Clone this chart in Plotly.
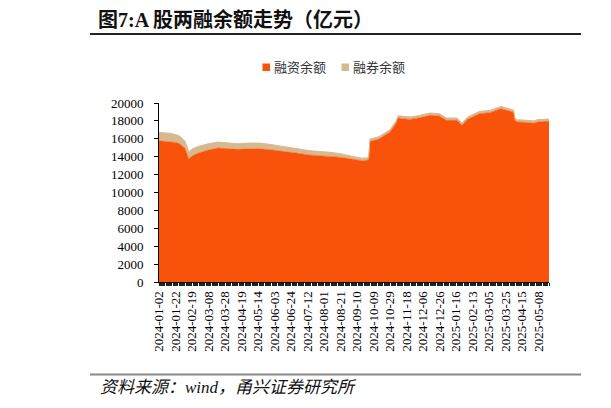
import pandas as pd
import plotly.graph_objects as go

# ---------------- data (亿元) ----------------
dates = [
    "2024-01-02", "2024-01-12", "2024-01-22", "2024-01-25", "2024-01-29",
    "2024-02-01", "2024-02-05", "2024-02-06", "2024-02-07", "2024-02-08",
    "2024-02-19", "2024-02-26", "2024-03-08", "2024-03-20", "2024-04-02",
    "2024-04-16", "2024-04-29", "2024-05-15", "2024-05-27", "2024-06-06",
    "2024-06-20", "2024-07-02", "2024-07-15", "2024-07-26", "2024-08-07",
    "2024-08-20", "2024-08-30", "2024-09-18", "2024-09-24", "2024-09-26",
    "2024-09-27", "2024-10-16", "2024-10-29", "2024-11-05", "2024-11-07",
    "2024-11-21", "2024-12-03", "2024-12-16", "2024-12-26", "2025-01-06",
    "2025-01-17", "2025-01-23", "2025-02-07", "2025-02-21", "2025-03-06",
    "2025-03-19", "2025-03-26", "2025-04-03", "2025-04-07", "2025-04-09",
    "2025-04-16", "2025-04-29", "2025-05-08", "2025-05-21",
]
financing = [
    15770, 15700, 15600, 15480, 15300,
    14950, 14250, 13780, 13830, 13950,
    14080, 14390, 14760, 14960, 14910,
    14820, 14880, 14890, 14800, 14690,
    14510, 14390, 14200, 14130, 14060,
    13950, 13790, 13560, 13580, 13680,
    15700, 16000, 16750, 17680, 18320,
    18170, 18350, 18620, 18550, 18070,
    18070, 17510, 18180, 18810, 18920,
    19370, 19200, 18950, 18070, 17870,
    17850, 17750, 17900, 17950,
]
sec_lending = [
    930, 930, 880, 850, 820,
    790, 790, 790, 780, 780,
    770, 740, 690, 670, 660,
    620, 640, 630, 600, 530,
    560, 520, 490, 440, 450,
    400, 380, 280, 270, 270,
    260, 260, 250, 260, 260,
    260, 260, 260, 250, 250,
    250, 250, 250, 250, 250,
    250, 250, 250, 250, 250,
    250, 250, 250, 250,
]
tick_dates = [
    "2024-01-02", "2024-01-22", "2024-02-19", "2024-03-08", "2024-03-28",
    "2024-04-19", "2024-05-14", "2024-06-03", "2024-06-24", "2024-07-12",
    "2024-08-01", "2024-08-21", "2024-09-10", "2024-10-09", "2024-10-29",
    "2024-11-18", "2024-12-06", "2024-12-26", "2025-01-16", "2025-02-13",
    "2025-03-05", "2025-03-25", "2025-04-15", "2025-05-08",
]
holidays = [
    "2024-02-09", "2024-02-12", "2024-02-13", "2024-02-14", "2024-02-15",
    "2024-02-16", "2024-04-04", "2024-04-05", "2024-05-01", "2024-05-02",
    "2024-05-03", "2024-06-10", "2024-09-16", "2024-09-17", "2024-10-01",
    "2024-10-02", "2024-10-03", "2024-10-04", "2024-10-07", "2025-01-01",
    "2025-01-28", "2025-01-29", "2025-01-30", "2025-01-31", "2025-02-03",
    "2025-02-04", "2025-04-04", "2025-05-01", "2025-05-02", "2025-05-05",
]
series_names = ["融资余额", "融券余额"]
title_text = "图7:A 股两融余额走势（亿元）"
source_text = "资料来源：wind，甬兴证券研究所"

# every trading day in the range (for the dense per-day tick marks)
hol = set(holidays)
trading_days = [d.strftime("%Y-%m-%d") for d in pd.bdate_range(dates[0], dates[-1])
                if d.strftime("%Y-%m-%d") not in hol]
n_days = len(trading_days)

ORANGE = "#F9530B"
TAN = "#D7B98F"
SERIF = "Liberation Serif, Times New Roman, Noto Sans CJK SC, serif"

W, H = 611, 408
OFF = 8  # page offset of the figure inside the browser window
L, R, T, B = 159, 549, 103, 282  # plot area in window pixels


def px(x):
    return (x - L) / (R - L)


def py(y):
    return (B - y) / (B - T)


fig = go.Figure()
fig.add_trace(go.Scatter(
    x=dates, y=financing, name=series_names[0], stackgroup="one", mode="lines",
    line=dict(color=ORANGE, width=0.5), fillcolor=ORANGE, showlegend=False,
))
fig.add_trace(go.Scatter(
    x=dates, y=sec_lending, name=series_names[1], stackgroup="one", mode="lines",
    line=dict(color=TAN, width=1), fillcolor=TAN, showlegend=False,
))
# invisible helper trace carrying the per-trading-day tick axis
fig.add_trace(go.Scatter(
    x=[0, n_days - 1], y=[0, 0], xaxis="x2", yaxis="y", mode="lines",
    line=dict(color="rgba(0,0,0,0)", width=0),
    showlegend=False, hoverinfo="skip",
))

fig.update_layout(
    width=W, height=H,
    margin=dict(l=L - OFF, r=W - (R - OFF), t=T - OFF, b=H - (B - OFF), pad=0),
    paper_bgcolor="white", plot_bgcolor="white",
    font=dict(family=SERIF, size=13, color="#000"),
    title=dict(
        text="<b>" + title_text + "</b>", xref="container", yref="container",
        x=(98 - OFF) / W, xanchor="left", y=1 - (20 - OFF) / H, yanchor="middle",
        font=dict(family=SERIF, size=20, color="#111"),
    ),
    showlegend=False,
    xaxis=dict(
        type="date", range=[dates[0], dates[-1]],
        rangebreaks=[dict(bounds=["sat", "mon"]), dict(values=holidays)],
        tickmode="array", tickvals=tick_dates, ticktext=tick_dates, tickangle=-90,
        showline=True, linecolor="#000", linewidth=1,
        ticks="outside", ticklen=3, tickcolor="#000", tickwidth=1,
        showgrid=False, zeroline=False,
        tickfont=dict(family=SERIF, size=13, color="#000"),
    ),
    xaxis2=dict(
        overlaying="x", anchor="y", side="bottom", range=[0, n_days - 1],
        tickmode="linear", tick0=0, dtick=1, ticks="outside", ticklen=3,
        tickcolor="#222", tickwidth=1, showticklabels=False,
        showline=False, showgrid=False, zeroline=False,
    ),
    yaxis=dict(
        range=[0, 20000], dtick=2000, tick0=0, tickformat="d",
        showline=True, linecolor="#000", linewidth=1,
        ticks="outside", ticklen=4, tickcolor="#000",
        showgrid=False, zeroline=False, ticklabelstandoff=8,
        tickfont=dict(family=SERIF, size=13, color="#000"),
    ),
)

shapes = []
# title rule and source rule
for y, col, wdt in [(34, "#222", 2), (374.5, "#888", 2)]:
    shapes.append(dict(type="line", xref="paper", yref="paper",
                       x0=px(90), x1=px(581), y0=py(y), y1=py(y),
                       line=dict(color=col, width=wdt)))
    shapes.append(dict(type="line", xref="paper", yref="paper",
                       x0=px(607), x1=px(620), y0=py(y), y1=py(y),
                       line=dict(color=col, width=wdt)))
# legend squares
for x0, col in [(262.5, ORANGE), (341.5, TAN)]:
    shapes.append(dict(type="rect", xref="paper", yref="paper",
                       x0=px(x0), x1=px(x0 + 7.5), y0=py(71), y1=py(63.5),
                       fillcolor=col, line=dict(width=0)))
fig.update_layout(shapes=shapes)

annotations = [
    dict(text=series_names[0], xref="paper", yref="paper", x=px(271.5), y=py(67.5),
         xanchor="left", yanchor="middle", showarrow=False,
         font=dict(family=SERIF, size=13, color="#333")),
    dict(text=series_names[1], xref="paper", yref="paper", x=px(350.5), y=py(67.5),
         xanchor="left", yanchor="middle", showarrow=False,
         font=dict(family=SERIF, size=13, color="#333")),
    dict(text=source_text, xref="paper", yref="paper", x=px(98), y=py(387),
         xanchor="left", yanchor="middle", showarrow=False,
         font=dict(family=SERIF, size=17, color="#111", style="italic")),
]
fig.update_layout(annotations=annotations)

fig.write_html("out.html")
